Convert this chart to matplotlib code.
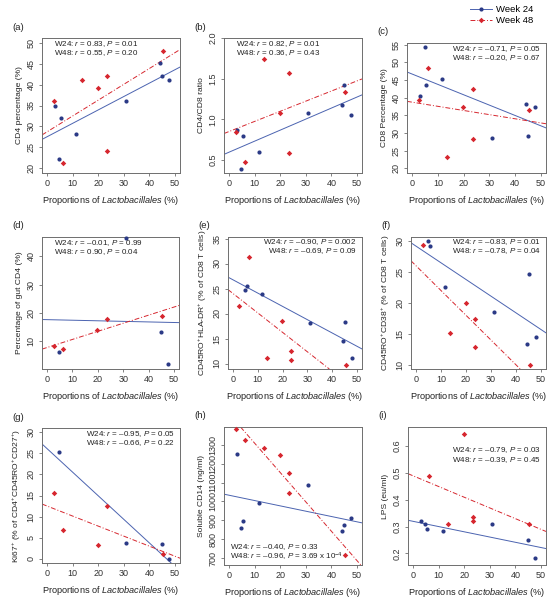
import numpy as np
import matplotlib
matplotlib.use("Agg")
import matplotlib.pyplot as plt
from matplotlib.lines import Line2D

plt.rcParams['font.family'] = ['Liberation Sans', 'DejaVu Sans']
plt.rcParams['mathtext.fontset'] = 'custom'
plt.rcParams['mathtext.rm'] = 'Liberation Sans'
plt.rcParams['mathtext.it'] = 'Liberation Sans:italic'

nan = np.nan

# proportions of Lactobacillales (%) for the two visits
x24 = [2.9, 4.8, 5.5, 11.5, 31.0, 44.2, 45.0, 47.8]
x48 = [2.6, 6.3, 13.7, 19.8, 23.5, 23.5, 45.4]

# panel values, week 24 / week 48
a24 = [35.0, 22.2, 32.1, 28.2, 36.1, 45.1, 42.1, 41.2]
a48 = [36.2, 21.2, 41.1, 39.1, 42.1, 24.2, 48.1]
b24 = [0.87, 0.39, 0.79, 0.60, 1.08, 1.18, 1.42, 1.05]
b48 = [0.84, 0.475, 1.746, 1.072, 1.575, 0.582, 1.338]
c24 = [40.4, 54.3, 43.5, 45.3, 28.7, 38.3, 29.3, 37.4]
c48 = [39.3, 48.5, 23.2, 37.4, 42.4, 28.2, 36.4]
d24 = [nan, 6.3, nan, nan, 46.3, nan, 13.3, 2.0]
d48 = [8.4, 7.4, nan, 14.0, 18.0, nan, 19.0]
e24 = [nan, 24.8, 25.6, 24.0, 18.2, 14.5, 18.4, 11.2]
e48 = [21.5, 31.4, 11.2, 18.6, 12.5, 10.7, 9.7]
f24 = [nan, 30.0, 29.2, 22.5, 18.5, 13.4, 24.7, 14.5]
f48 = [29.3, nan, 15.1, 19.9, 17.4, 12.8, 9.9]
g24 = [nan, 25.2, nan, nan, 3.8, nan, 3.6, 0.0]
g48 = [15.5, 6.8, nan, 3.3, 12.6, nan, 1.1]
h24 = [1252, 860, 899, 991, 1086, 846, 875, 915]
h48 = [1381, 1325, 1282, 1245, 1152, 1046, 719]
i24 = [0.321, 0.311, 0.290, 0.285, 0.310, nan, 0.249, 0.182]
i48 = [nan, 0.487, 0.310, 0.644, 0.335, 0.322, 0.310]

tags = ['(a)', '(b)', '(c)', '(d)', '(e)', '(f)', '(g)', '(h)', '(i)']
ylabels = ['CD4 percentage (%)', 'CD4/CD8 ratio', 'CD8 Percentage (%)',
           'Percentage of gut CD4 (%)',
           'CD45RO$^{+}$HLA-DR$^{+}$ (% of CD8 T cells)',
           'CD45RO$^{+}$CD38$^{+}$ (% of CD8 T cells)',
           'Ki67$^{+}$ (% of CD4$^{+}$CD45RO$^{+}$CD27$^{+}$)',
           'Soluble CD14 (ng/ml)', 'LPS (eu/ml)']
stats24 = ['0.83, $P$ = 0.01', '0.82, $P$ = 0.01', '\u20130.71, $P$ = 0.05',
           '\u20130.01, $P$ = 0.99', '\u20130.90, $P$ = 0.002', '\u20130.83, $P$ = 0.01',
           '\u20130.95, $P$ = 0.05', '\u20130.40, $P$ = 0.33', '\u20130.79, $P$ = 0.03']
stats48 = ['0.55, $P$ = 0.20', '0.36, $P$ = 0.43', '\u20130.20, $P$ = 0.67',
           '0.90, $P$ = 0.04', '\u20130.69, $P$ = 0.09', '\u20130.78, $P$ = 0.04',
           '\u20130.66, $P$ = 0.22', '\u20130.96, $P$ = 3.69 x 10$^{-4}$',
           '\u20130.39, $P$ = 0.45']
yticks = [np.arange(20, 51, 5), [0.5, 1.0, 1.5, 2.0], np.arange(20, 56, 5),
          [10, 20, 30, 40], np.arange(10, 36, 5), np.arange(10, 31, 5),
          np.arange(0, 31, 5), np.arange(700, 1301, 100), [0.2, 0.3, 0.4, 0.5, 0.6]]
ylims = [(18.8, 51.2), (0.34, 2.0), (18.7, 55.5), (0.2, 46.8), (8.9, 35.3),
         (9.3, 30.6), (-1.0, 31.0), (665, 1393), (0.157, 0.671)]
ytickfmt = ['{:g}', '{:.1f}', '{:g}', '{:g}', '{:g}', '{:g}', '{:g}', '{:g}', '{:.1f}']
ys24 = [a24, b24, c24, d24, e24, f24, g24, h24, i24]
ys48 = [a48, b48, c48, d48, e48, f48, g48, h48, i48]

# axes boxes in pixels: left, top, right, bottom
boxes = [(42, 38, 180, 173), (224, 38, 362, 173), (407, 43, 546, 173),
         (42, 237, 179, 369), (228, 237, 362, 369), (411, 237, 546, 369),
         (42, 428, 180, 563), (224, 427, 362, 565), (408, 427, 546, 565)]
# where the r/P text goes: (x frac, y frac of first line, ha)
textpos = [(0.09, 0.955, 'left'), (0.09, 0.955, 'left'), (0.96, 0.955, 'right'),
           (0.09, 0.955, 'left'), (0.96, 0.965, 'right'), (0.96, 0.96, 'right'),
           (0.96, 0.955, 'right'), (0.04, 0.13, 'left'), (0.96, 0.83, 'right')]

W, H = 554, 601
blue_pt = '#2b3a86'
blue_ln = '#4b63b0'
red = '#d6262e'
grey = '#6e6e6e'

fig = plt.figure(figsize=(W / 100, H / 100), dpi=100)

for k in range(9):
    l, t, r, b = boxes[k]
    ax = fig.add_axes([l / W, 1 - b / H, (r - l) / W, (b - t) / H])
    ax.set_xlim(-2, 52)
    ax.set_ylim(*ylims[k])

    for xs, ys, col, ls, mk, lc in [(x24, ys24[k], blue_pt, '-', 'o', blue_ln),
                                    (x48, ys48[k], red, (0, (5, 2, 1, 2)), 'D', red)]:
        xs = np.array(xs, float)
        ys = np.array(ys, float)
        ok = ~np.isnan(ys)
        m, c0 = np.polyfit(xs[ok], ys[ok], 1)
        ax.axline((0, c0), slope=m, color=lc, lw=0.7, ls=ls, zorder=1)
        ax.plot(xs[ok], ys[ok], ls='none', marker=mk, ms=3.0 if mk == 'o' else 2.8,
                color=col, mec='none', zorder=3, clip_on=False)

    ax.set_xticks([0, 10, 20, 30, 40, 50])
    ax.set_yticks(yticks[k])
    ax.set_yticklabels([ytickfmt[k].format(v) for v in yticks[k]])
    for lab in ax.get_yticklabels():
        lab.set_rotation(90)
        lab.set_va('center')
    ax.tick_params(labelsize=6.5, length=2.5, width=0.6, color=grey,
                   labelcolor='#333333', pad=2)
    for s in ax.spines.values():
        s.set_color(grey)
        s.set_linewidth(0.7)

    ax.set_xlabel('Proportions of $\\it{Lactobacillales}$ (%)', fontsize=6.6,
                  color='#222222', labelpad=4)
    ax.set_ylabel(ylabels[k], fontsize=6.1, color='#222222', labelpad=3)

    tx, ty, ha = textpos[k]
    ax.text(tx, ty, 'W24: $r$ = ' + stats24[k], transform=ax.transAxes,
            fontsize=5.8, ha=ha, va='center', color='#222222')
    ax.text(tx, ty - 0.068, 'W48: $r$ = ' + stats48[k], transform=ax.transAxes,
            fontsize=5.8, ha=ha, va='center', color='#222222')

    fig.text((l - 30) / W, 1 - (t - 11) / H, tags[k], fontsize=6.8,
             ha='left', va='center', color='#222222')

handles = [Line2D([], [], color=blue_ln, lw=0.7, marker='o', ms=3.0,
                  mfc=blue_pt, mec='none'),
           Line2D([], [], color=red, lw=0.7, ls=(0, (5, 2, 1, 2)), marker='D',
                  ms=2.8, mec='none')]
fig.legend(handles, ['Week 24', 'Week 48'], loc='upper left',
           bbox_to_anchor=(470 / W, 1 - 5 / H), frameon=False, fontsize=6.8,
           handlelength=2.3, handletextpad=0.5, labelspacing=0.25,
           borderaxespad=0, borderpad=0)

fig.savefig('out.png', dpi=100)
